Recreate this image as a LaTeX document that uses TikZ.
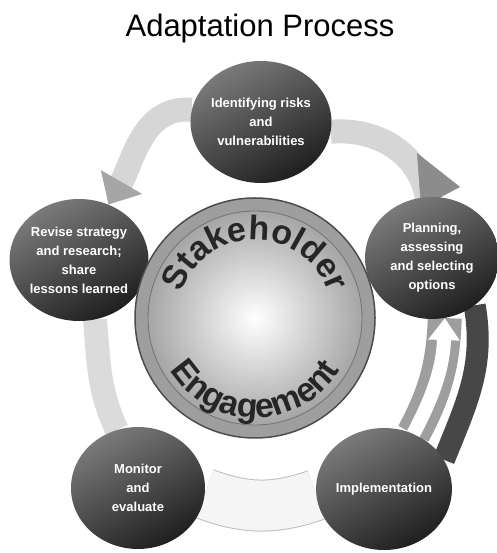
\documentclass[tikz,border=0pt]{standalone}
\usepackage{fontspec}
\setmainfont{Liberation Sans}
\usetikzlibrary{shapes.geometric, arrows.meta, decorations.text, backgrounds, calc}

\begin{document}
\begin{tikzpicture}[x=1pt, y=1pt,
        stage/.style={ellipse, minimum width=134pt, minimum height=122pt, inner sep=0pt,
            top color=black!52, bottom color=black!88, shading angle=30,
            text=white, align=center, font=\fontsize{13}{19}\selectfont\bfseries},
        band/.style={line width=24pt, draw=black!16},
        wedge/.style={line width=0.4pt, black!45, -{Triangle[length=50pt, width=44pt]}},
        arc text/.style={decorate, decoration={text along path, text align=center, text color=black!85}}]
        \useasboundingbox (0,0) rectangle (496,553);

        \node[anchor=base, font=\fontsize{31}{37}\selectfont] (title) at (260,516) {Adaptation Process};

        % the five steps
        \node[stage] (iden) at (261,431) {Identifying risks\\and\\vulnerabilities};
        \node[stage] (plan) at (432,295) {Planning,\\assessing\\and selecting\\options};
        \node[stage] (impl) at (384,64) {Implementation};
        \node[stage] (moni) at (138,65) {Monitor\\and\\evaluate};
        \node[stage] (revi) at (79,293) {Revise strategy\\and research;\\share\\lessons learned};

        % stakeholder disc in the middle
        \node[circle, minimum size=240pt, draw=black!70, fill=black!38, line width=1.5pt] (hub) at (255,235) {};
        \node[circle, minimum size=214pt, draw=black!55, line width=0.8pt,
            inner color=white, outer color=black!35] (core) at (hub) {};

        \path[arc text, decoration={text={|\fontsize{34}{34}\selectfont\bfseries|Stakeholder}}]
            ($(hub)+(175:78)$) arc[start angle=175, end angle=5, radius=78];
        \path[arc text, decoration={text={|\fontsize{34}{34}\selectfont\bfseries|Engagement}}]
            ($(hub)+(-175:100)$) arc[start angle=-175, end angle=-5, radius=100];

        % the ring of arrows
        \coordinate (fin) at ($(plan.82)+(118:50)$);
        \begin{scope}[on background layer]
            \draw[band, -{Triangle[length=26pt, width=46pt, color=black!35]}] (iden.170) to[out=175, in=60] (revi.62);
            \draw[band] (plan.95) to[out=100, in=5] (iden.-8);
            \draw[wedge] ($(plan.82)+(118:-10)$) -- (fin);
            \draw[band, draw=black!14] (revi.-75) to[out=-85, in=115] (moni.110);
            \draw[black!25, line width=1pt, double=black!4, double distance=50pt] (moni.-5) to[bend right=20] (impl.185);
            \draw[band, line width=22pt, draw=black!72] (impl.26) to[out=68, in=-80] (plan.-48);
            \draw[band, line width=34pt, draw=black!38] (impl.62) to[out=62, in=-92] (plan.-78);
        \end{scope}
        \draw[line width=14pt, white, -{Triangle[length=22pt, width=30pt]}] (impl.62) to[out=62, in=-92] (plan.-78);
    \end{tikzpicture}
\end{document}
